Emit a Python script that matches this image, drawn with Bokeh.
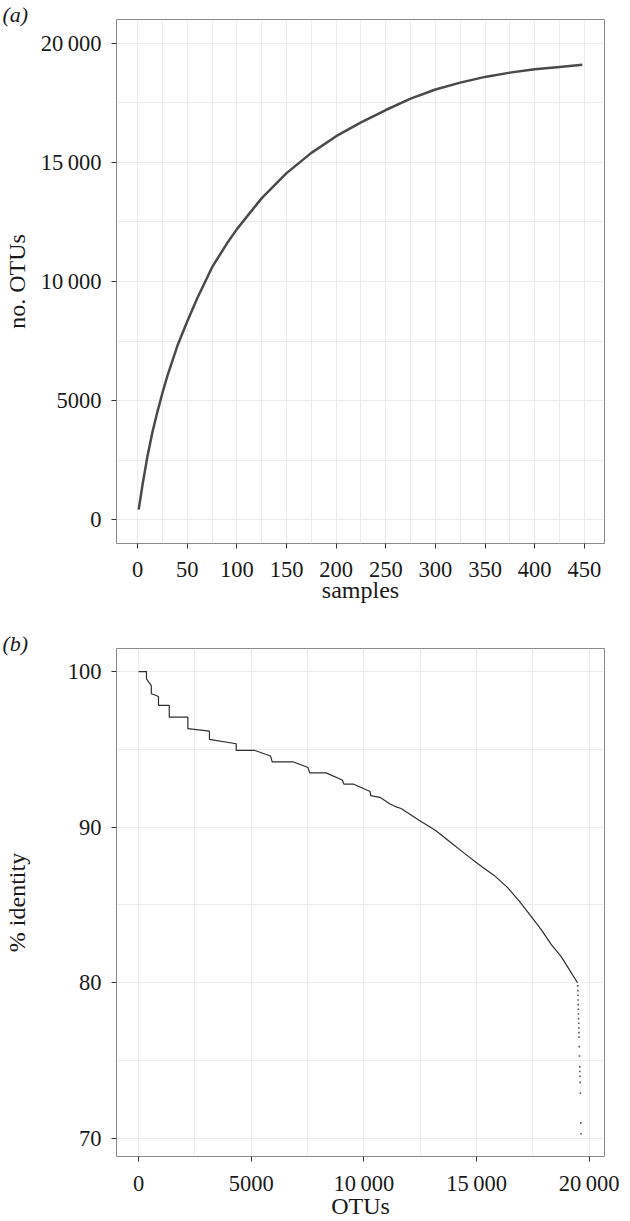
from bokeh.plotting import figure
from bokeh.models import Range1d, FixedTicker, Title
from bokeh.layouts import column
from bokeh.embed import file_html
from bokeh.resources import INLINE

# ---------------- data: panel (a) rarefaction curve ----------------
samples = [1, 5, 10, 15, 20, 25, 30, 40, 50, 60, 75, 90, 100, 125, 150, 175,
           200, 225, 250, 275, 300, 325, 350, 375, 400, 425, 448]
n_otus = [420, 1500, 2700, 3700, 4550, 5330, 6050, 7300, 8330, 9300, 10600,
          11600, 12200, 13500, 14550, 15400, 16100, 16680, 17200, 17680,
          18060, 18350, 18590, 18770, 18910, 19010, 19100]

a_xticks = [0, 50, 100, 150, 200, 250, 300, 350, 400, 450]
a_xminor = [25, 75, 125, 175, 225, 275, 325, 375, 425]
a_yticks = [0, 5000, 10000, 15000, 20000]
a_yminor = [2500, 7500, 12500, 17500]
a_ylabels = ["0", "5000", "10\u2009000", "15\u2009000", "20\u2009000"]

# ---------------- data: panel (b) % identity of OTUs ----------------
otu_rank = [0, 350, 350, 565, 565, 783, 884, 884, 1362, 1362, 2188, 2188,
            3145, 3145, 4333, 4333, 5130, 5860, 5930, 6870, 7522, 7594, 8319,
            9043, 9116, 9551, 10275, 10300, 10710, 11145, 11435, 11650, 12450,
            13170, 13830, 14480, 15060, 15780, 16360, 16870, 17380, 17880,
            18320, 18750, 19120, 19480]
identity = [100.0, 100.0, 99.53, 99.1, 98.57, 98.46, 98.4, 97.82, 97.82, 97.07,
            97.07, 96.33, 96.17, 95.64, 95.36, 94.94, 94.94, 94.57, 94.19,
            94.19, 93.83, 93.49, 93.49, 93.03, 92.76, 92.76, 92.29, 92.03,
            91.92, 91.5, 91.3, 91.2, 90.45, 89.8, 89.05, 88.3, 87.65, 86.9,
            86.15, 85.3, 84.35, 83.4, 82.45, 81.7, 80.85, 80.0]
tail_rank = [19490, 19500, 19505, 19510, 19515, 19520, 19525, 19530, 19535,
             19540, 19545, 19550, 19560, 19570, 19580, 19585, 19590, 19600,
             19610, 19630, 19640]
tail_identity = [79.8, 79.5, 79.2, 78.9, 78.6, 78.3, 78.0, 77.7, 77.4, 77.1,
                 76.8, 76.5, 75.9, 75.3, 74.6, 74.3, 74.0, 73.6, 72.9, 71.0,
                 70.3]

b_xticks = [0, 5000, 10000, 15000, 20000]
b_xminor = [2500, 7500, 12500, 17500]
b_xlabels = ["0", "5000", "10\u2009000", "15\u2009000", "20\u2009000"]
b_yticks = [70, 80, 90, 100]
b_yminor = [75, 85, 95]

FONT = "Liberation Serif"
TICK_FS = "22.5px"
TITLE_FS = "24px"
TXT = "#1a1a1a"
GRID = "#ececec"


def style(p, xt, xm, yt, ym, xlab=None, ylab=None, ytitle_standoff=8,
          xlab_standoff=13, xtitle_standoff=-3):
    p.xaxis.ticker = FixedTicker(ticks=xt, minor_ticks=xm)
    p.yaxis.ticker = FixedTicker(ticks=yt, minor_ticks=ym)
    if xlab:
        p.xaxis.major_label_overrides = {t: l for t, l in zip(xt, xlab)}
    if ylab:
        p.yaxis.major_label_overrides = {t: l for t, l in zip(yt, ylab)}
    for ax in (p.xaxis, p.yaxis):
        ax.axis_line_color = None
        ax.major_tick_line_color = "#333333"
        ax.major_tick_in = 0
        ax.major_tick_out = 5
        ax.minor_tick_line_color = None
        ax.major_label_text_font = FONT
        ax.major_label_text_font_size = TICK_FS
        ax.major_label_text_color = TXT
        ax.axis_label_text_font = FONT
        ax.axis_label_text_font_size = TITLE_FS
        ax.axis_label_text_font_style = "normal"
        ax.axis_label_text_color = TXT
    p.xaxis.major_label_standoff = xlab_standoff
    p.yaxis.major_label_standoff = 10
    p.xaxis.axis_label_standoff = xtitle_standoff
    p.yaxis.axis_label_standoff = ytitle_standoff
    for g in (p.xgrid, p.ygrid):
        g.grid_line_color = GRID
        g.grid_line_width = 1
        g.minor_grid_line_color = GRID
        g.minor_grid_line_width = 1
    p.outline_line_color = "#8a8a8a"
    p.outline_line_width = 1
    p.background_fill_color = "white"
    p.border_fill_color = "white"


def panel_tag(p, letter):
    p.add_layout(Title(text="(" + letter + ")", align="left", offset=-114,
                       standoff=-14, text_font=FONT, text_font_size="22px",
                       text_font_style="italic", text_color=TXT), "above")


# ---------------- panel (a) ----------------
pa = figure(width=630, height=620, output_backend="svg", toolbar_location=None,
            x_range=Range1d(-21.35, 470.35), y_range=Range1d(-1000, 21000),
            min_border_left=115, min_border_right=26, min_border_top=19,
            min_border_bottom=77, x_axis_label="samples", y_axis_label="no. OTUs")
style(pa, a_xticks, a_xminor, a_yticks, a_yminor, ylab=a_ylabels,
      ytitle_standoff=8)
pa.line(samples, n_otus, line_color="#4a4a4a", line_width=2.5)
panel_tag(pa, "a")

# ---------------- panel (b) ----------------
pb = figure(width=630, height=601, output_backend="svg", toolbar_location=None,
            x_range=Range1d(-980, 20680), y_range=Range1d(68.84, 101.48),
            min_border_left=115, min_border_right=18, min_border_top=28,
            min_border_bottom=64, x_axis_label="OTUs", y_axis_label="% identity")
style(pb, b_xticks, b_xminor, b_yticks, b_yminor, xlab=b_xlabels,
      ytitle_standoff=35, xlab_standoff=9, xtitle_standoff=-6)
pb.line(otu_rank, identity, line_color="#2e2e2e", line_width=1.2)
pb.scatter(tail_rank, tail_identity, marker="square", size=1.6,
           fill_color="#555555", line_color=None)
panel_tag(pb, "b")

layout = column(pa, pb, spacing=0)
open("out.html", "w").write(file_html(layout, INLINE))
